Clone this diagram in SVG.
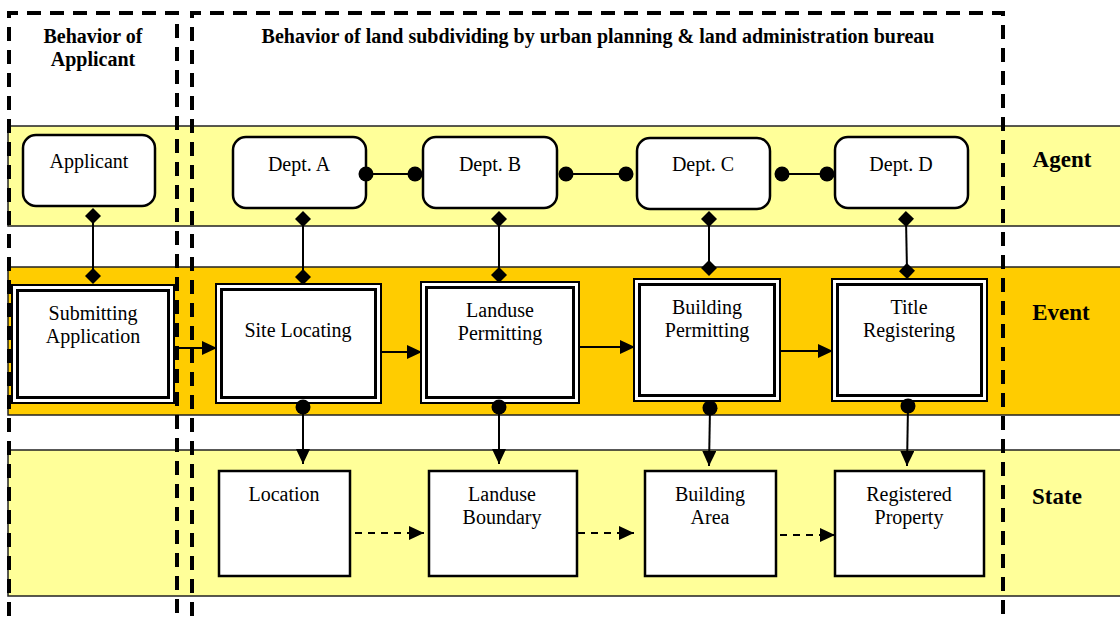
<svg xmlns="http://www.w3.org/2000/svg" width="1120" height="617" viewBox="0 0 1120 617">
<style>
.t{font-family:"Liberation Serif","Times New Roman",serif;font-size:20px;fill:#000;text-anchor:middle}
.b{font-family:"Liberation Serif","Times New Roman",serif;font-weight:bold;font-size:20px;fill:#000;text-anchor:middle}
.lane{font-family:"Liberation Serif","Times New Roman",serif;font-weight:bold;font-size:23px;fill:#000;text-anchor:middle}
.band{stroke:#222;stroke-width:1.5}
.dash{fill:none;stroke:#000;stroke-width:4;stroke-dasharray:14 9}
.agent{fill:#fff;stroke:#000;stroke-width:2.5}
.ev{fill:#fff;stroke:#000;stroke-width:2}
.evi{fill:#fff;stroke:#000;stroke-width:3}
.st{fill:#fff;stroke:#000;stroke-width:2.5}
.ln{stroke:#000;stroke-width:2;fill:none}
.dl{stroke:#000;stroke-width:2;fill:none;stroke-dasharray:7 6}
</style>
<defs>
<marker id="arr" markerWidth="16" markerHeight="14" refX="15" refY="7" orient="auto" markerUnits="userSpaceOnUse">
<path d="M0,0 L15,7 L0,14 Z" fill="#000"/>
</marker>
<marker id="dia" markerWidth="16" markerHeight="16" refX="8" refY="8" orient="auto" markerUnits="userSpaceOnUse">
<path d="M0,8 L8,0 L16,8 L8,16 Z" fill="#000"/>
</marker>
<marker id="dot" markerWidth="16" markerHeight="16" refX="8" refY="8" orient="auto" markerUnits="userSpaceOnUse">
<circle cx="8" cy="8" r="7.5" fill="#000"/>
</marker>
</defs>

<g id="bands">
<rect class="band" x="8" y="126" width="1114" height="100" fill="#FFFF99"/>
<rect class="band" x="8" y="267" width="1114" height="148" fill="#FFCC00"/>
<rect class="band" x="8" y="450" width="1114" height="146" fill="#FFFF99"/>
</g>

<g id="swimlane-applicant">
<path class="dash" d="M9,616 V13 H177 V616"/>
<text class="b" x="93" y="43">Behavior of</text>
<text class="b" x="93" y="66">Applicant</text>
</g>
<g id="swimlane-bureau">
<path class="dash" d="M192,616 V13 H1003 V616"/>
<text class="b" x="598" y="43">Behavior of land subdividing by urban planning &amp; land administration bureau</text>
</g>

<g id="lane-labels">
<text class="lane" x="1062" y="167">Agent</text>
<text class="lane" x="1061" y="320">Event</text>
<text class="lane" x="1057" y="504">State</text>
</g>

<g id="applicant"><rect class="agent" x="23" y="135" width="132" height="71" rx="13"/><text class="t" x="89" y="168">Applicant</text></g>
<g id="dept-a"><rect class="agent" x="233" y="137" width="133" height="71" rx="13"/><text class="t" x="299" y="171">Dept. A</text></g>
<g id="dept-b"><rect class="agent" x="423" y="137" width="134" height="71" rx="13"/><text class="t" x="490" y="171">Dept. B</text></g>
<g id="dept-c"><rect class="agent" x="637" y="138" width="133" height="71" rx="13"/><text class="t" x="703" y="171">Dept. C</text></g>
<g id="dept-d"><rect class="agent" x="835" y="137" width="133" height="71" rx="13"/><text class="t" x="901" y="171">Dept. D</text></g>

<g id="submitting-application"><rect class="ev" x="12" y="285" width="162" height="118"/><rect class="evi" x="17.5" y="290.5" width="151" height="107"/><text class="t" x="93" y="320">Submitting</text><text class="t" x="93" y="343">Application</text></g>
<g id="site-locating"><rect class="ev" x="216" y="284" width="165" height="119"/><rect class="evi" x="221.5" y="289.5" width="154" height="108"/><text class="t" x="298" y="337">Site Locating</text></g>
<g id="landuse-permitting"><rect class="ev" x="421" y="282" width="158" height="121"/><rect class="evi" x="426.5" y="287.5" width="147" height="110"/><text class="t" x="500" y="317">Landuse</text><text class="t" x="500" y="340">Permitting</text></g>
<g id="building-permitting"><rect class="ev" x="634" y="279" width="146" height="122"/><rect class="evi" x="639.5" y="284.5" width="135" height="111"/><text class="t" x="707" y="314">Building</text><text class="t" x="707" y="337">Permitting</text></g>
<g id="title-registering"><rect class="ev" x="832" y="279" width="155" height="122"/><rect class="evi" x="837.5" y="284.5" width="144" height="111"/><text class="t" x="909" y="314">Title</text><text class="t" x="909" y="337">Registering</text></g>

<g id="location"><rect class="st" x="219" y="471" width="131" height="105"/><text class="t" x="284" y="501">Location</text></g>
<g id="landuse-boundary"><rect class="st" x="429" y="471" width="148" height="105"/><text class="t" x="502" y="501">Landuse</text><text class="t" x="502" y="524">Boundary</text></g>
<g id="building-area"><rect class="st" x="645" y="471" width="131" height="105"/><text class="t" x="710" y="501">Building</text><text class="t" x="710" y="524">Area</text></g>
<g id="registered-property"><rect class="st" x="835" y="471" width="149" height="105"/><text class="t" x="909" y="501">Registered</text><text class="t" x="909" y="524">Property</text></g>

<g id="connectors">
<line class="ln" x1="366" y1="174" x2="415" y2="174" marker-start="url(#dot)" marker-end="url(#dot)"/>
<line class="ln" x1="566" y1="174" x2="626" y2="174" marker-start="url(#dot)" marker-end="url(#dot)"/>
<line class="ln" x1="782" y1="174" x2="827" y2="174" marker-start="url(#dot)" marker-end="url(#dot)"/>
<line class="ln" x1="93" y1="216" x2="93" y2="276" marker-start="url(#dia)" marker-end="url(#dia)"/>
<line class="ln" x1="303" y1="219" x2="303" y2="277" marker-start="url(#dia)" marker-end="url(#dia)"/>
<line class="ln" x1="499" y1="219" x2="499" y2="275" marker-start="url(#dia)" marker-end="url(#dia)"/>
<line class="ln" x1="709" y1="219" x2="709" y2="268" marker-start="url(#dia)" marker-end="url(#dia)"/>
<line class="ln" x1="906" y1="219" x2="907" y2="271" marker-start="url(#dia)" marker-end="url(#dia)"/>
<line class="ln" x1="174" y1="348" x2="217" y2="348" marker-end="url(#arr)"/>
<line class="ln" x1="381" y1="352" x2="422" y2="352" marker-end="url(#arr)"/>
<line class="ln" x1="579" y1="347" x2="635" y2="347" marker-end="url(#arr)"/>
<line class="ln" x1="780" y1="351" x2="833" y2="351" marker-end="url(#arr)"/>
<line class="ln" x1="303" y1="407" x2="303" y2="464" marker-start="url(#dot)" marker-end="url(#arr)"/>
<line class="ln" x1="499" y1="407" x2="499" y2="464" marker-start="url(#dot)" marker-end="url(#arr)"/>
<line class="ln" x1="710" y1="408" x2="709" y2="466" marker-start="url(#dot)" marker-end="url(#arr)"/>
<line class="ln" x1="908" y1="406" x2="907" y2="466" marker-start="url(#dot)" marker-end="url(#arr)"/>
<line class="dl" x1="355" y1="533" x2="424" y2="533" marker-end="url(#arr)"/>
<line class="dl" x1="578" y1="533" x2="634" y2="533" marker-end="url(#arr)"/>
<line class="dl" x1="780" y1="535" x2="835" y2="535" marker-end="url(#arr)"/>
</g>
</svg>
